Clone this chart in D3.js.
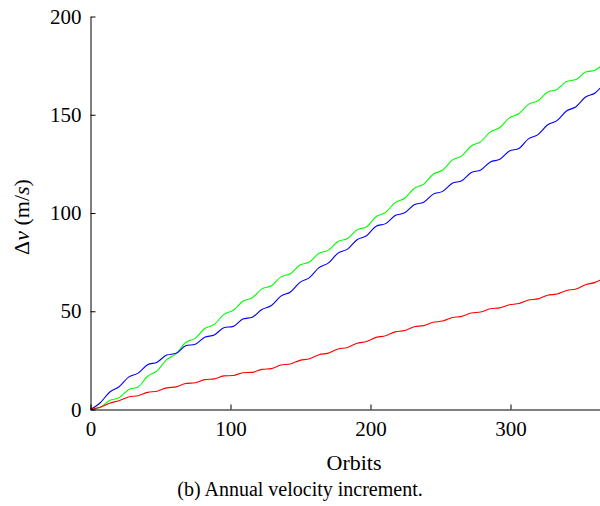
<!DOCTYPE html>
<html>
<head>
<meta charset="utf-8">
<script src="https://cdn.jsdelivr.net/npm/d3@7"></script>
<style>
  html, body { margin: 0; padding: 0; background: #fff; }
  svg { display: block; }
</style>
</head>
<body>
<svg id="chart" width="600" height="506"></svg>
<script>
// Orbit positions of the samples (every 6.8 orbits, half a wiggle period)
const orbits = d3.range(0, 368, 6.8);

// Δv (m/s)
const greenSeries = [0, 1.0, 4.6, 6.0, 10.1, 11.5, 16.9, 19.7, 25.4, 28.4, 34.1, 36.2, 41.2, 43.3, 48.3, 50.5, 55.1, 56.9, 61.4, 63.0, 67.5, 69.1, 73.5, 75.1, 79.5, 81.1, 85.5, 87.0, 91.4, 93.0, 98.1, 100.3, 105.3, 107.5, 112.5, 114.7, 119.7, 121.9, 126.9, 129.1, 134.1, 136.3, 141.3, 143.5, 148.4, 150.6, 155.3, 157.1, 161.5, 162.9, 166.9, 167.9, 171.7, 172.7, 176.5];

const blueSeries = [0, 3.3, 8.8, 11.6, 16.5, 18.5, 22.8, 24.1, 27.7, 28.6, 32.4, 33.2, 36.8, 37.9, 41.6, 42.3, 46.0, 47.0, 50.9, 52.9, 57.7, 59.8, 64.7, 67.1, 72.2, 74.6, 79.6, 81.6, 86.4, 88.4, 93.3, 94.6, 98.7, 100.1, 104.2, 105.5, 109.6, 111.0, 115.1, 116.4, 120.6, 121.9, 126.0, 127.3, 131.5, 132.8, 137.7, 139.9, 144.8, 147.0, 151.9, 154.1, 159.0, 161.1, 166.1];

const redSeries = [0, 1.1, 3.2, 4.5, 6.4, 7.0, 8.7, 9.3, 11.0, 11.5, 13.2, 13.6, 15.2, 15.6, 17.1, 17.3, 18.7, 18.9, 20.4, 20.8, 22.6, 23.2, 25.0, 25.8, 27.9, 28.7, 30.8, 31.6, 33.7, 34.6, 36.7, 37.5, 39.5, 40.2, 42.1, 42.7, 44.4, 45.0, 46.8, 47.4, 49.1, 49.6, 51.3, 51.7, 53.3, 53.9, 55.7, 56.3, 58.1, 58.8, 60.6, 61.3, 63.5, 64.7, 67.1];

const seriesList = [
  { name: "green", values: greenSeries, color: "#00ff00" },
  { name: "blue",  values: blueSeries,  color: "#0000ff" },
  { name: "red",   values: redSeries,   color: "#ff0000" }
];

const xTicks = [0, 100, 200, 300];
const yTicks = [0, 50, 100, 150, 200];
const xLabel = "Orbits";
const caption = "(b) Annual velocity increment.";

const FONT = "Liberation Serif";

const svg = d3.select("#chart");

const x = d3.scaleLinear().domain([0, 365]).range([90.5, 601.5]);
const y = d3.scaleLinear().domain([0, 200]).range([409.5, 16.5]);

const plot = svg.append("g");

const line = d3.line()
  .x((d, i) => x(orbits[i]))
  .y(d => y(d))
  .curve(d3.curveMonotoneX);

seriesList.forEach(s => {
  plot.append("path")
    .datum(s.values)
    .attr("fill", "none")
    .attr("stroke", s.color)
    .attr("stroke-width", 1.1)
    .attr("d", line);
});

// Axes
const xAxis = d3.axisBottom(x).tickValues(xTicks).tickSizeInner(-5).tickSizeOuter(0).tickPadding(12);
const yAxis = d3.axisLeft(y).tickValues(yTicks).tickSizeInner(-5).tickSizeOuter(0).tickPadding(9);

const gx = svg.append("g").attr("transform", `translate(0,${y(0)})`).call(xAxis);
const gy = svg.append("g").attr("transform", `translate(${x(0)},0)`).call(yAxis);

[gx, gy].forEach(g => {
  g.attr("font-family", FONT).attr("font-size", 21);
  g.selectAll("path.domain").attr("stroke", "#000").attr("stroke-width", 1);
  g.selectAll(".tick line").attr("stroke", "#000").attr("stroke-width", 1);
  g.selectAll(".tick text").attr("fill", "#000").attr("font-family", FONT);
});
gx.selectAll(".tick text").attr("dy", "0.7em");

// X label
svg.append("text")
  .attr("x", 354)
  .attr("y", 470)
  .attr("text-anchor", "middle")
  .attr("font-family", FONT)
  .attr("font-size", 22)
  .text(xLabel);

// Caption
svg.append("text")
  .attr("x", 300)
  .attr("y", 496)
  .attr("text-anchor", "middle")
  .attr("font-family", FONT)
  .attr("font-size", 20)
  .text(caption);

// Y label
const yl = svg.append("text")
  .attr("transform", "translate(29,217) rotate(-90)")
  .attr("text-anchor", "middle")
  .attr("font-family", FONT)
  .attr("font-size", 22);
yl.append("tspan").text("Δ");
yl.append("tspan").attr("font-style", "italic").text("v");
yl.append("tspan").text(" (m/");
yl.append("tspan").attr("font-style", "italic").text("s");
yl.append("tspan").text(")");
</script>
</body>
</html>
